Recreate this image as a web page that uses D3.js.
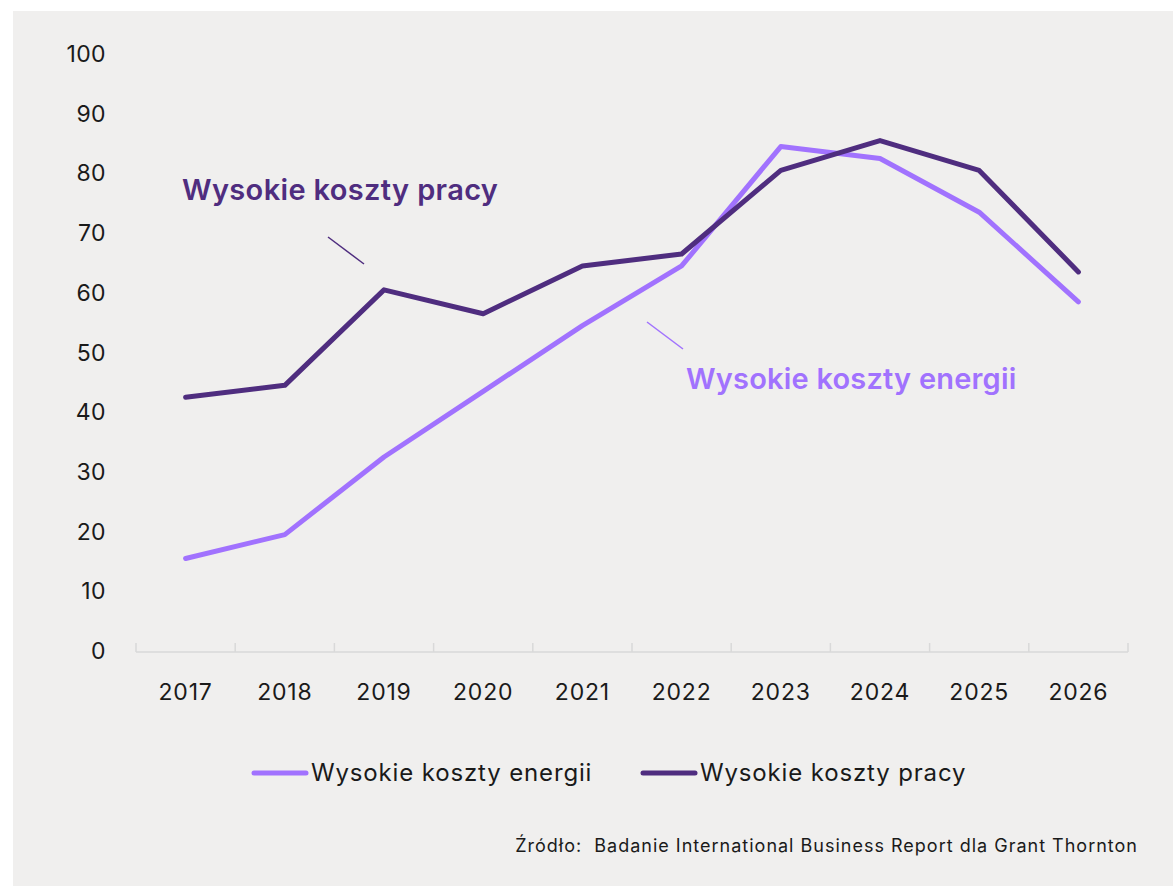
<!DOCTYPE html>
<html>
<head>
<meta charset="utf-8">
<script src="https://cdn.jsdelivr.net/npm/d3@7"></script>
<style>
  body { margin: 0; background: #fff; }
  text { font-family: Inter, "Open Sans", sans-serif; }
</style>
</head>
<body>
<script>
const width = 1173;
const height = 886;

const years = ['2017', '2018', '2019', '2020', '2021', '2022', '2023', '2024', '2025', '2026'];
const energy = [16, 20, 33, 44, 55, 65, 85, 83, 74, 59];
const labor = [43, 45, 61, 57, 65, 67, 81, 86, 81, 64];
const y_ticks = [0, 10, 20, 30, 40, 50, 60, 70, 80, 90, 100];
const series_names = ['Wysokie koszty energii', 'Wysokie koszty pracy'];
const source_text = 'Źródło:  Badanie International Business Report dla Grant Thornton';

const light = '#a172fe';
const dark = '#4f2d7f';

const svg = d3.select('body')
    .append('svg')
    .attr('width', width)
    .attr('height', height);

svg.append('rect')
    .attr('x', 13)
    .attr('y', 11)
    .attr('width', width - 13)
    .attr('height', height - 11)
    .attr('fill', '#f0efee');

const x = d3.scaleBand().domain(years).range([136, 1128]);
const y = d3.scaleLinear().domain([0, 100]).range([654, 57]);

// y tick labels, no axis line
svg.append('g')
    .selectAll('text')
    .data(y_ticks)
    .enter()
    .append('text')
    .attr('x', 106)
    .attr('y', d => y(d) - 3)
    .attr('dy', '0.35em')
    .attr('text-anchor', 'end')
    .attr('font-size', 23)
    .attr('letter-spacing', 0.4)
    .attr('fill', '#1a1a1a')
    .text(d => d);

// x axis: line with ticks at band edges pointing up
const x_axis = svg.append('g').attr('class', 'x_axis');
x_axis.append('line')
    .attr('x1', 136).attr('x2', 1128)
    .attr('y1', 652).attr('y2', 652)
    .attr('stroke', '#d9d9d9')
    .attr('stroke-width', 1.5);
x_axis.selectAll('.tick')
    .data(years.concat(['end']))
    .enter()
    .append('line')
    .attr('x1', (d, i) => x.range()[0] + i * x.step())
    .attr('x2', (d, i) => x.range()[0] + i * x.step())
    .attr('y1', 643).attr('y2', 652)
    .attr('stroke', '#d9d9d9')
    .attr('stroke-width', 1.5);
x_axis.selectAll('text')
    .data(years)
    .enter()
    .append('text')
    .attr('x', d => x(d) + x.bandwidth() / 2)
    .attr('y', 692)
    .attr('dy', '0.35em')
    .attr('text-anchor', 'middle')
    .attr('font-size', 23)
    .attr('letter-spacing', 0.8)
    .attr('fill', '#1a1a1a')
    .text(d => d);

const line = d3.line()
    .x((d, i) => x(years[i]) + x.bandwidth() / 2)
    .y(d => y(d));

svg.append('path')
    .attr('d', line(energy))
    .attr('fill', 'none')
    .attr('stroke', light)
    .attr('stroke-width', 5)
    .attr('stroke-linecap', 'round')
    .attr('stroke-linejoin', 'round');

svg.append('path')
    .attr('d', line(labor))
    .attr('fill', 'none')
    .attr('stroke', dark)
    .attr('stroke-width', 5)
    .attr('stroke-linecap', 'round')
    .attr('stroke-linejoin', 'round');

// annotations
svg.append('text')
    .attr('x', 182).attr('y', 200)
    .attr('font-size', 29)
    .attr('font-weight', 600)
    .attr('letter-spacing', 0.35)
    .attr('fill', dark)
    .text(series_names[1]);
svg.append('line')
    .attr('x1', 328).attr('y1', 237)
    .attr('x2', 364).attr('y2', 264)
    .attr('stroke', dark)
    .attr('stroke-width', 1.5);

svg.append('text')
    .attr('x', 686).attr('y', 389)
    .attr('font-size', 29)
    .attr('font-weight', 600)
    .attr('letter-spacing', 0.2)
    .attr('fill', light)
    .text(series_names[0]);
svg.append('line')
    .attr('x1', 647).attr('y1', 322)
    .attr('x2', 683).attr('y2', 349)
    .attr('stroke', light)
    .attr('stroke-width', 1.5);

// legend
const legend_items = [
    {name: series_names[0], color: light, x: 254},
    {name: series_names[1], color: dark, x: 643}
];
const legend = svg.append('g')
    .selectAll('g')
    .data(legend_items)
    .enter()
    .append('g')
    .attr('transform', d => `translate(${d.x},773)`);
legend.append('line')
    .attr('x1', 0).attr('x2', 52)
    .attr('stroke', d => d.color)
    .attr('stroke-width', 5)
    .attr('stroke-linecap', 'round');
legend.append('text')
    .attr('x', 57)
    .attr('dy', '0.35em')
    .attr('font-size', 24)
    .attr('letter-spacing', 0.85)
    .attr('fill', '#1a1a1a')
    .text(d => d.name);

svg.append('text')
    .attr('x', 1138).attr('y', 846)
    .attr('dy', '0.35em')
    .attr('text-anchor', 'end')
    .attr('font-size', 18)
    .attr('letter-spacing', 1)
    .style('white-space', 'pre')
    .attr('fill', '#1a1a1a')
    .text(source_text);
</script>
</body>
</html>
